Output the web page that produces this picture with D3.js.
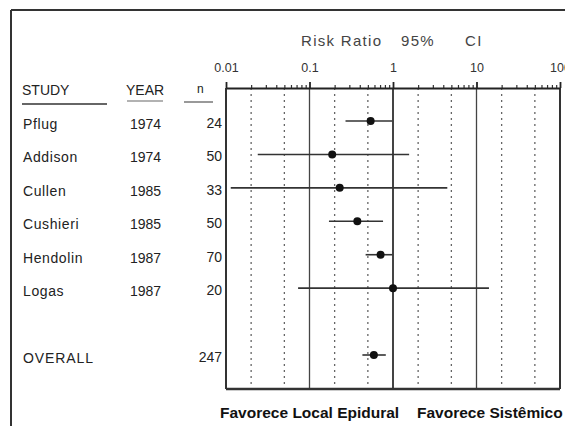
<!DOCTYPE html>
<html>
<head>
<meta charset="utf-8">
<script src="https://cdn.jsdelivr.net/npm/d3@7"></script>
<style>
  body { margin: 0; background: #fff; }
  svg { display: block; font-family: Arial, "Liberation Sans", sans-serif; }
</style>
</head>
<body>
<div class="container"></div>
<script>
const width = 565,
    height = 426,
    plotLeft = 226,
    plotRight = 560,
    plotTop = 88,
    plotBottom = 389;

const studies = ["Pflug", "Addison", "Cullen", "Cushieri", "Hendolin", "Logas", "OVERALL"];
const years = ["1974", "1974", "1985", "1985", "1987", "1987", ""];
const counts = [24, 50, 33, 50, 70, 20, 247];
const ratios = [0.54, 0.187, 0.23, 0.374, 0.71, 1.0, 0.59];
const lower = [0.27, 0.024, 0.0114, 0.171, 0.47, 0.073, 0.43];
const upper = [0.98, 1.56, 4.47, 0.76, 0.98, 14.1, 0.82];
const rows = [0, 1, 2, 3, 4, 5, 7];
const majorTicks = [0.01, 0.1, 1, 10, 100];
const tickLabels = ["0.01", "0.1", "1", "10", "100"];

let svg;

const createCanvas = () => {
  return d3.select('.container')
           .append('svg')
           .attr('width', width)
           .attr('height', height);
};

const defineScales = () => {
  const xScale = d3.scaleLog()
                   .domain([0.01, 100])
                   .range([plotLeft, plotRight]);
  const yScale = d3.scaleLinear()
                   .domain([0, 7])
                   .range([121, 355]);
  return { xScale, yScale };
};

const createFrame = () => {
  svg.append('line')
     .attr('x1', 11).attr('x2', width).attr('y1', 10).attr('y2', 10)
     .attr('stroke', '#333').attr('stroke-width', 2);
  svg.append('line')
     .attr('x1', 11).attr('x2', 11).attr('y1', 10).attr('y2', height)
     .attr('stroke', '#333').attr('stroke-width', 2);
};

const createGrid = (scales) => {
  const x = scales.xScale;
  const all = x.ticks();
  const dashed = all.filter(d => {
    const lead = Math.round(d / Math.pow(10, Math.floor(Math.log10(d) + 1e-9)));
    return lead === 2 || lead === 5;
  });

  svg.append('g')
     .selectAll('line')
     .data(dashed)
     .enter()
     .append('line')
     .attr('x1', d => x(d)).attr('x2', d => x(d))
     .attr('y1', plotTop).attr('y2', plotBottom)
     .attr('stroke', '#666')
     .attr('stroke-width', 1.3)
     .attr('stroke-dasharray', '2,4');

  // solid decade lines inside the box
  svg.append('g')
     .selectAll('line')
     .data(majorTicks.slice(1, -1))
     .enter()
     .append('line')
     .attr('x1', d => x(d)).attr('x2', d => x(d))
     .attr('y1', plotTop).attr('y2', plotBottom)
     .attr('stroke', '#444')
     .attr('stroke-width', d => d === 1 ? 2 : 1.3);

  // box sides
  svg.append('line')
     .attr('x1', plotLeft).attr('x2', plotLeft).attr('y1', plotTop).attr('y2', plotBottom)
     .attr('stroke', '#333').attr('stroke-width', 2);
  svg.append('line')
     .attr('x1', plotRight).attr('x2', plotRight).attr('y1', plotTop).attr('y2', plotBottom)
     .attr('stroke', '#333').attr('stroke-width', 2);
  svg.append('line')
     .attr('x1', plotLeft).attr('x2', plotRight).attr('y1', plotBottom).attr('y2', plotBottom)
     .attr('stroke', '#333').attr('stroke-width', 2.5);
};

const createAxis = (scales) => {
  const x = scales.xScale;
  const minor = x.ticks().filter(d => majorTicks.indexOf(d) < 0);

  const minorAxis = svg.append('g')
     .attr('transform', `translate(0, ${plotTop})`)
     .call(d3.axisTop(x).tickValues(minor).tickSize(3).tickFormat(''));
  minorAxis.select('.domain').remove();
  minorAxis.selectAll('line').attr('stroke', '#333').attr('stroke-width', 1.2);

  const majorAxis = svg.append('g')
     .attr('transform', `translate(0, ${plotTop})`)
     .call(d3.axisTop(x).tickValues(majorTicks).tickSizeInner(6).tickSizeOuter(0)
             .tickFormat((d, i) => tickLabels[i]));
  majorAxis.select('.domain').attr('stroke', '#222').attr('stroke-width', 1.8);
  majorAxis.selectAll('line').attr('stroke', '#222').attr('stroke-width', 1.8);
  majorAxis.selectAll('text')
     .attr('y', -16)
     .style('font-size', '12.5px')
     .attr('fill', '#333');

  const title = svg.append('g')
     .style('font-size', '15px')
     .style('letter-spacing', '1.3px')
     .attr('fill', '#444');
  title.append('text').attr('x', 301).attr('y', 46).text('Risk Ratio');
  title.append('text').attr('x', 401).attr('y', 46).text('95%');
  title.append('text').attr('x', 465).attr('y', 46).text('CI');
};

const createTable = (scales) => {
  const y = scales.yScale;
  const head = svg.append('g')
                  .style('font-size', '14px')
                  .attr('fill', '#222');
  head.append('text').attr('x', 22).attr('y', 95).text('STUDY');
  head.append('text').attr('x', 126).attr('y', 95).text('YEAR');
  head.append('text').attr('x', 197).attr('y', 93).style('font-size', '12px').text('n');
  head.append('line').attr('x1', 22).attr('x2', 107).attr('y1', 104).attr('y2', 104)
      .attr('stroke', '#333').attr('stroke-width', 1.5);
  head.append('line').attr('x1', 127).attr('x2', 163).attr('y1', 101).attr('y2', 101)
      .attr('stroke', '#666').attr('stroke-width', 1.2);
  head.append('line').attr('x1', 184).attr('x2', 213).attr('y1', 102).attr('y2', 102)
      .attr('stroke', '#555').attr('stroke-width', 1.2);

  const g = svg.append('g')
               .style('font-size', '14px')
               .attr('fill', '#222');
  g.selectAll('.name')
   .data(studies)
   .enter()
   .append('text')
   .attr('class', 'name')
   .attr('x', 23)
   .style('letter-spacing', (d, i) => i === studies.length - 1 ? '0.9px' : '0.6px')
   .attr('y', (d, i) => y(rows[i]) + 8)
   .text(d => d);
  g.selectAll('.year')
   .data(years)
   .enter()
   .append('text')
   .attr('class', 'year')
   .attr('x', 130)
   .attr('y', (d, i) => y(rows[i]) + 8)
   .text(d => d);
  g.selectAll('.count')
   .data(counts)
   .enter()
   .append('text')
   .attr('class', 'count')
   .attr('x', 222)
   .attr('text-anchor', 'end')
   .attr('y', (d, i) => y(rows[i]) + 7)
   .text(d => d);
};

const createMarks = (scales) => {
  const x = scales.xScale, y = scales.yScale;
  svg.append('g')
     .selectAll('line')
     .data(ratios)
     .enter()
     .append('line')
     .attr('x1', (d, i) => x(lower[i]))
     .attr('x2', (d, i) => x(upper[i]))
     .attr('y1', (d, i) => y(rows[i]))
     .attr('y2', (d, i) => y(rows[i]))
     .attr('stroke', '#333')
     .attr('stroke-width', 1.6);
  svg.append('g')
     .selectAll('circle')
     .data(ratios)
     .enter()
     .append('circle')
     .attr('cx', d => x(d))
     .attr('cy', (d, i) => y(rows[i]))
     .attr('r', 4)
     .attr('fill', '#111');
};

const createFooter = () => {
  const f = svg.append('g')
               .style('font-size', '15.5px')
               .style('font-weight', 'bold')
               .attr('fill', '#111');
  f.append('text').attr('x', 220).attr('y', 418).text('Favorece Local Epidural');
  f.append('text').attr('x', 417).attr('y', 418).text('Favorece Sistêmico');
};

const drawForest = () => {
  svg = createCanvas();
  const scales = defineScales();
  createFrame();
  createGrid(scales);
  createAxis(scales);
  createTable(scales);
  createMarks(scales);
  createFooter();
};

drawForest();
</script>
</body>
</html>
